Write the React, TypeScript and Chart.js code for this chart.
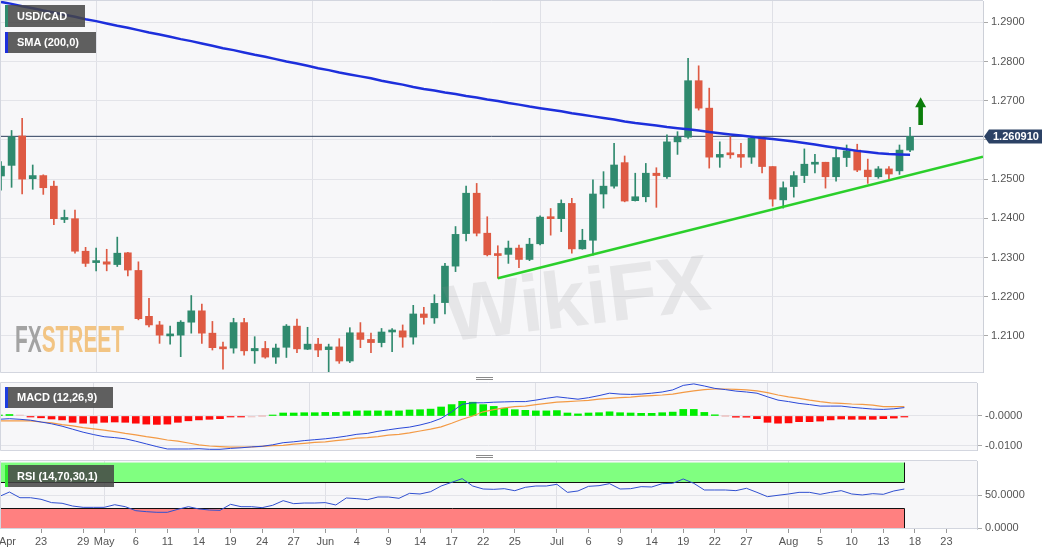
import React, { useEffect, useRef } from 'react';
import { Chart, registerables } from 'chart.js';
Chart.register(...registerables);

const FONT = '"Liberation Sans", Arial, Helvetica, sans-serif';

// ---- x axis (trading-day index; 0 = Apr 19) ----
const tickIndex = [0, 4, 8, 10, 13, 16, 19, 22, 25, 28, 31, 34, 37, 40, 43, 46, 49, 53, 56, 59, 62, 65, 68, 71, 75, 78, 81, 84, 87, 90];
const tickText = ['Apr', '23', '29', 'May', '6', '11', '14', '19', '24', '27', 'Jun', '4', '9', '14', '17', '22', '25', 'Jul', '6', '9', '14', '19', '22', '27', 'Aug', '5', '10', '13', '18', '23'];
const monthIndex = [10, 31, 53, 75];

// ---- USD/CAD daily candles ----
const opens = [
  1.2508, 1.2535, 1.2610, 1.2501, 1.2509, 1.2482, 1.2397, 1.2399, 1.2316, 1.2287,
  1.2289, 1.2282, 1.2312, 1.2267, 1.2150, 1.2128, 1.2100, 1.2102, 1.2135, 1.2164,
  1.2107, 1.2070, 1.2069, 1.2134, 1.2062, 1.2068, 1.2046, 1.2071, 1.2125, 1.2066,
  1.2079, 1.2065, 1.2072, 1.2036, 1.2108, 1.2091, 1.2083, 1.2110, 1.2113, 1.2097,
  1.2156, 1.2146, 1.2185, 1.2278, 1.2361, 1.2464, 1.2362, 1.2307, 1.2308, 1.2324,
  1.2295, 1.2335, 1.2404, 1.2399, 1.2438, 1.2322, 1.2344, 1.2462, 1.2482, 1.2542,
  1.2445, 1.2455, 1.2515, 1.2506, 1.2595, 1.2607, 1.2751, 1.2681, 1.2556, 1.2567,
  1.2563, 1.2556, 1.2604, 1.2532, 1.2447, 1.2481, 1.2509, 1.2538, 1.2543, 1.2506,
  1.2555, 1.2574, 1.2523, 1.2506, 1.2526, 1.2521, 1.2574,
];
const highs = [
  1.2545, 1.2624, 1.2655, 1.2536, 1.2511, 1.2495, 1.2421, 1.2421, 1.2326, 1.2324,
  1.2321, 1.2352, 1.2313, 1.2289, 1.2196, 1.2137, 1.2125, 1.2139, 1.2203, 1.2181,
  1.2137, 1.2084, 1.2145, 1.2145, 1.2098, 1.2086, 1.2079, 1.2129, 1.2143, 1.2122,
  1.2094, 1.2079, 1.2093, 1.2121, 1.2134, 1.2107, 1.2119, 1.2119, 1.2128, 1.2178,
  1.2173, 1.2205, 1.2285, 1.2379, 1.2482, 1.2489, 1.2404, 1.2330, 1.2342, 1.2332,
  1.2349, 1.2406, 1.2425, 1.2447, 1.2451, 1.2372, 1.2498, 1.2519, 1.2591, 1.2559,
  1.2515, 1.2540, 1.2529, 1.2613, 1.2621, 1.2808, 1.2789, 1.2732, 1.2595, 1.2608,
  1.2591, 1.2607, 1.2607, 1.2532, 1.2493, 1.2519, 1.2577, 1.2563, 1.2543, 1.2576,
  1.2587, 1.2589, 1.2551, 1.2532, 1.2532, 1.2587, 1.2632,
];
const lows = [
  1.2472, 1.2479, 1.2462, 1.2474, 1.2461, 1.2384, 1.2389, 1.2311, 1.2277, 1.2266,
  1.2266, 1.2277, 1.2253, 1.2141, 1.2123, 1.2081, 1.2079, 1.2047, 1.2107, 1.2081,
  1.2064, 1.2015, 1.2056, 1.2051, 1.2030, 1.2043, 1.2030, 1.2045, 1.2057, 1.2065,
  1.2047, 1.2006, 1.2030, 1.2032, 1.2070, 1.2057, 1.2072, 1.2060, 1.2071, 1.2079,
  1.2130, 1.2132, 1.2156, 1.2264, 1.2342, 1.2355, 1.2304, 1.2247, 1.2285, 1.2274,
  1.2292, 1.2332, 1.2357, 1.2366, 1.2311, 1.2321, 1.2306, 1.2426, 1.2477, 1.2442,
  1.2444, 1.2442, 1.2428, 1.2502, 1.2563, 1.2604, 1.2676, 1.2528, 1.2530, 1.2553,
  1.2530, 1.2540, 1.2516, 1.2431, 1.2426, 1.2454, 1.2491, 1.2516, 1.2477, 1.2495,
  1.2532, 1.2519, 1.2489, 1.2502, 1.2500, 1.2512, 1.2570,
];
const closes = [
  1.2533, 1.2608, 1.2500, 1.2509, 1.2478, 1.2399, 1.2401, 1.2316, 1.2285, 1.2290,
  1.2283, 1.2311, 1.2268, 1.2144, 1.2128, 1.2102, 1.2103, 1.2135, 1.2164, 1.2107,
  1.2070, 1.2067, 1.2134, 1.2062, 1.2068, 1.2046, 1.2069, 1.2125, 1.2067, 1.2079,
  1.2064, 1.2072, 1.2036, 1.2108, 1.2091, 1.2083, 1.2110, 1.2115, 1.2097, 1.2156,
  1.2147, 1.2183, 1.2278, 1.2359, 1.2464, 1.2362, 1.2307, 1.2305, 1.2324, 1.2295,
  1.2334, 1.2403, 1.2399, 1.2438, 1.2322, 1.2344, 1.2462, 1.2482, 1.2536, 1.2444,
  1.2455, 1.2515, 1.2509, 1.2595, 1.2607, 1.2751, 1.2681, 1.2556, 1.2563, 1.2562,
  1.2556, 1.2604, 1.2532, 1.2449, 1.2478, 1.2509, 1.2538, 1.2543, 1.2506, 1.2555,
  1.2572, 1.2523, 1.2506, 1.2526, 1.2513, 1.2574, 1.2609,
];
const sma200 = [
  1.2952, 1.2947, 1.2941, 1.2936, 1.2930, 1.2925, 1.2919, 1.2914, 1.2908, 1.2903,
  1.2897, 1.2891, 1.2886, 1.2880, 1.2874, 1.2869, 1.2863, 1.2857, 1.2852, 1.2846,
  1.2840, 1.2834, 1.2829, 1.2823, 1.2817, 1.2812, 1.2806, 1.2800, 1.2795, 1.2789,
  1.2783, 1.2778, 1.2772, 1.2767, 1.2762, 1.2757, 1.2751, 1.2746, 1.2741, 1.2735,
  1.2730, 1.2726, 1.2721, 1.2717, 1.2712, 1.2708, 1.2703, 1.2699, 1.2694, 1.2690,
  1.2685, 1.2681, 1.2677, 1.2673, 1.2668, 1.2664, 1.2660, 1.2656, 1.2652, 1.2647,
  1.2643, 1.2640, 1.2637, 1.2633, 1.2630, 1.2627, 1.2624, 1.2620, 1.2617, 1.2614,
  1.2611, 1.2608, 1.2605, 1.2602, 1.2599, 1.2596, 1.2592, 1.2588, 1.2584, 1.2580,
  1.2576, 1.2572, 1.2569, 1.2566, 1.2564, 1.2563, 1.2562,
];
const trendIdx = [47, 92.9];
const trendPrice = [1.2247, 1.2557];
const lastPrice = 1.26091;
const signalArrow = { index: 87, from: 1.2638, to: 1.2709 };
const priceTicks = [1.21, 1.22, 1.23, 1.24, 1.25, 1.26, 1.27, 1.28, 1.29];

// ---- MACD (12,26,9) ----
const macdLine = [
  -0.0011, -0.0009, -0.0011, -0.0014, -0.0020, -0.0026, -0.0034, -0.0044, -0.0054, -0.0062,
  -0.0069, -0.0072, -0.0076, -0.0084, -0.0093, -0.0102, -0.0110, -0.0110, -0.0110, -0.0109,
  -0.0111, -0.0111, -0.0108, -0.0106, -0.0103, -0.0101, -0.0096, -0.0089, -0.0086, -0.0082,
  -0.0079, -0.0076, -0.0072, -0.0067, -0.0061, -0.0058, -0.0051, -0.0046, -0.0041, -0.0037,
  -0.0030, -0.0021, -0.0008, 0.0014, 0.0039, 0.0044, 0.0044, 0.0046, 0.0047, 0.0048,
  0.0048, 0.0053, 0.0059, 0.0064, 0.0060, 0.0056, 0.0061, 0.0068, 0.0076, 0.0073,
  0.0072, 0.0073, 0.0076, 0.0080, 0.0087, 0.0102, 0.0107, 0.0100, 0.0092, 0.0088,
  0.0083, 0.0080, 0.0076, 0.0064, 0.0053, 0.0048, 0.0042, 0.0038, 0.0033, 0.0033,
  0.0033, 0.0029, 0.0026, 0.0023, 0.0022, 0.0024, 0.0028,
];
const signalLine = [
  -0.0016, -0.0016, -0.0016, -0.0016, -0.0020, -0.0023, -0.0029, -0.0033, -0.0039, -0.0043,
  -0.0047, -0.0052, -0.0058, -0.0063, -0.0069, -0.0074, -0.0080, -0.0084, -0.0090, -0.0096,
  -0.0100, -0.0102, -0.0104, -0.0104, -0.0103, -0.0101, -0.0099, -0.0098, -0.0094, -0.0091,
  -0.0088, -0.0086, -0.0082, -0.0079, -0.0074, -0.0072, -0.0069, -0.0064, -0.0061, -0.0056,
  -0.0050, -0.0044, -0.0036, -0.0024, -0.0011, 0.0000, 0.0014, 0.0021, 0.0027, 0.0031,
  0.0033, 0.0038, 0.0042, 0.0046, 0.0048, 0.0050, 0.0052, 0.0056, 0.0059, 0.0061,
  0.0063, 0.0066, 0.0068, 0.0070, 0.0073, 0.0079, 0.0084, 0.0088, 0.0090, 0.0090,
  0.0089, 0.0087, 0.0084, 0.0078, 0.0070, 0.0064, 0.0059, 0.0053, 0.0048, 0.0044,
  0.0042, 0.0040, 0.0039, 0.0036, 0.0031, 0.0031, 0.0031,
];
const macdHist = [
  0.0002, 0.0005, 0.0001, -0.0003, -0.0006, -0.0010, -0.0013, -0.0021, -0.0024, -0.0024,
  -0.0021, -0.0020, -0.0021, -0.0024, -0.0027, -0.0028, -0.0027, -0.0021, -0.0016, -0.0013,
  -0.0011, -0.0009, -0.0003, -0.0002, -0.0001, 0.0000, 0.0003, 0.0010, 0.0010, 0.0011,
  0.0011, 0.0012, 0.0012, 0.0014, 0.0017, 0.0017, 0.0017, 0.0017, 0.0017, 0.0020,
  0.0021, 0.0023, 0.0030, 0.0038, 0.0049, 0.0046, 0.0038, 0.0032, 0.0026, 0.0021,
  0.0019, 0.0017, 0.0017, 0.0018, 0.0010, 0.0007, 0.0010, 0.0011, 0.0014, 0.0011,
  0.0010, 0.0009, 0.0009, 0.0011, 0.0013, 0.0022, 0.0022, 0.0012, 0.0004, 0.0000,
  -0.0004, -0.0004, -0.0009, -0.0021, -0.0024, -0.0023, -0.0019, -0.0019, -0.0017, -0.0013,
  -0.0010, -0.0011, -0.0011, -0.0011, -0.0009, -0.0007, -0.0003,
];
const macdTicks = [-0.01, 0];

// ---- RSI (14,70,30,1) ----
const rsi = [
  47.9, 55.0, 46.3, 46.3, 43.9, 38.8, 37.8, 33.6, 31.6, 31.6,
  31.6, 35.6, 32.6, 26.5, 25.0, 24.0, 24.0, 28.6, 32.6, 29.1,
  27.5, 27.0, 36.2, 32.6, 32.6, 31.1, 34.7, 41.8, 37.2, 38.2,
  38.2, 38.8, 35.2, 45.9, 44.9, 43.3, 47.4, 47.4, 45.4, 53.0,
  52.0, 55.5, 64.2, 69.8, 75.4, 64.2, 59.6, 59.1, 60.1, 57.0,
  62.2, 64.2, 64.2, 66.8, 54.5, 56.6, 63.7, 64.7, 67.8, 59.6,
  60.1, 63.2, 62.7, 67.8, 68.3, 74.9, 68.3, 58.1, 58.1, 58.1,
  57.1, 60.7, 54.5, 47.9, 50.0, 52.0, 54.5, 54.5, 51.5, 54.5,
  57.1, 52.0, 50.5, 52.5, 51.5, 56.6, 59.6,
];
const rsiTop = 100;
const rsiUpper = 70;
const rsiLower = 30;
const rsiBottom = 0;
const rsiTicks = [0, 50];

// ---- scale ranges ----
const MAIN_X_MIN = -0.095;
const LOW_X_MIN = 0.104;
const X_MAX = 92.9;

const GREEN = '#2f8a6e';
const RED = '#de5a43';

const idx = opens.map((_, i) => i);
const candleColors = idx.map((i) => (closes[i] >= opens[i] ? GREEN : RED));

const plotFrame = {
  id: 'plotFrame',
  beforeDraw(chart: any) {
    const { ctx, chartArea: a } = chart;
    ctx.save();
    ctx.fillStyle = '#f7f7f9';
    ctx.fillRect(a.left, a.top, a.right - a.left, a.bottom - a.top);
    ctx.restore();
  },
  afterDraw(chart: any) {
    const { ctx, chartArea: a } = chart;
    ctx.save();
    ctx.strokeStyle = '#d3d6df';
    ctx.lineWidth = 1;
    ctx.beginPath();
    ctx.moveTo(a.right, a.top - 0.5);
    ctx.lineTo(a.left + 0.5, a.top - 0.5);
    ctx.lineTo(a.left + 0.5, a.bottom - 0.5);
    ctx.lineTo(a.right, a.bottom - 0.5);
    ctx.stroke();
    ctx.restore();
  },
};

const arrowPlugin = {
  id: 'signalArrow',
  afterDatasetsDraw(chart: any) {
    const { ctx, scales } = chart;
    const cx = scales.x.getPixelForValue(signalArrow.index);
    const tip = scales.y.getPixelForValue(signalArrow.to);
    const base = scales.y.getPixelForValue(signalArrow.from);
    const head = 10;
    ctx.save();
    ctx.fillStyle = '#0b7d0b';
    ctx.beginPath();
    ctx.moveTo(cx, tip);
    ctx.lineTo(cx + 5.5, tip + head);
    ctx.lineTo(cx + 2.3, tip + head);
    ctx.lineTo(cx + 2.3, base);
    ctx.lineTo(cx - 2.3, base);
    ctx.lineTo(cx - 2.3, tip + head);
    ctx.lineTo(cx - 5.5, tip + head);
    ctx.closePath();
    ctx.fill();
    ctx.restore();
  },
};

const lastPriceLabel = {
  id: 'lastPriceLabel',
  afterDraw(chart: any) {
    const { ctx, chartArea: a, scales } = chart;
    const y = Math.round(scales.y.getPixelForValue(lastPrice)) + 0.5;
    const x0 = a.right + 1;
    ctx.save();
    ctx.fillStyle = '#2c4265';
    ctx.beginPath();
    ctx.moveTo(x0, y);
    ctx.lineTo(x0 + 5, y - 7);
    ctx.lineTo(x0 + 58, y - 7);
    ctx.lineTo(x0 + 58, y + 7);
    ctx.lineTo(x0 + 5, y + 7);
    ctx.closePath();
    ctx.fill();
    ctx.fillStyle = '#ffffff';
    ctx.font = `bold 11px ${FONT}`;
    ctx.textBaseline = 'middle';
    ctx.textAlign = 'left';
    ctx.fillText(lastPrice.toFixed(6), x0 + 9, y + 0.5);
    ctx.restore();
  },
};

const rsiZones = {
  id: 'rsiZones',
  beforeDatasetsDraw(chart: any) {
    const { ctx, chartArea: a, scales } = chart;
    const l = a.left;
    const xr = Math.round(scales.x.getPixelForValue(rsi.length - 1)) + 0.5;
    const yT = scales.y.getPixelForValue(rsiTop);
    const yU = Math.round(scales.y.getPixelForValue(rsiUpper)) + 0.5;
    const yL = Math.round(scales.y.getPixelForValue(rsiLower)) + 0.5;
    const yB = scales.y.getPixelForValue(rsiBottom);
    ctx.save();
    ctx.fillStyle = '#80ff80';
    ctx.fillRect(l, yT, xr - l, yU - yT);
    ctx.fillStyle = '#ff8080';
    ctx.fillRect(l, yL, xr - l, yB - yL);
    ctx.strokeStyle = '#111111';
    ctx.lineWidth = 1;
    ctx.beginPath();
    ctx.moveTo(l + 0.5, yT);
    ctx.lineTo(l + 0.5, yU);
    ctx.lineTo(xr, yU);
    ctx.lineTo(xr, yT);
    ctx.moveTo(l + 0.5, yB);
    ctx.lineTo(l + 0.5, yL);
    ctx.lineTo(xr, yL);
    ctx.lineTo(xr, yB);
    ctx.stroke();
    ctx.restore();
  },
};

function xAxis(min: number, max: number, withLabels: boolean) {
  return {
    type: 'linear',
    min,
    max,
    offset: false,
    afterBuildTicks: (s: any) => {
      s.ticks = (withLabels ? [...tickIndex, max] : tickIndex).map((v) => ({ value: v }));
    },
    ticks: {
      display: withLabels,
      autoSkip: false,
      maxRotation: 0,
      minRotation: 0,
      align: 'inner',
      padding: 2,
      color: '#555',
      font: { size: 11, family: FONT },
      callback: (_v: any, i: number) => tickText[i] ?? '',
    },
    grid: {
      color: (c: any) => (c.tick && monthIndex.includes(c.tick.value) ? '#dfe0e6' : 'rgba(0,0,0,0)'),
      drawTicks: withLabels,
      tickLength: 4,
      tickColor: (c: any) => (c.tick && c.tick.value < max - 0.5 ? '#999' : 'rgba(0,0,0,0)'),
    },
    border: { display: false },
    afterFit: (s: any) => {
      s.height = withLabels ? 26 : 0;
      s.paddingLeft = 0;
      s.paddingRight = 0;
    },
  };
}

function yAxis(min: number, max: number, ticks: number[], fmt: (v: number) => string, width: number) {
  return {
    position: 'right',
    min,
    max,
    afterBuildTicks: (s: any) => {
      s.ticks = ticks.map((v) => ({ value: v }));
    },
    ticks: {
      autoSkip: false,
      callback: (v: any) => fmt(Number(v)),
      color: '#555',
      font: { size: 11, family: FONT },
      padding: 3,
    },
    grid: { color: '#e3e4e9', tickLength: 5, tickColor: '#aaa' },
    border: { display: true, color: '#cdd0d8' },
    afterFit: (s: any) => {
      s.width = width;
      s.paddingTop = 0;
      s.paddingBottom = 0;
    },
  };
}

const baseOptions = {
  responsive: false,
  animation: false,
  events: [],
  layout: { padding: { top: 1, left: 0, right: 0, bottom: 0 }, autoPadding: false },
  plugins: { legend: { display: false }, tooltip: { enabled: false } },
};

function mainConfig(): any {
  return {
    type: 'bar',
    data: {
      datasets: [
        {
          type: 'line',
          data: idx.map((i) => ({ x: i, y: sma200[i] })),
          borderColor: '#1d2fdc',
          borderWidth: 2.5,
          pointRadius: 0,
          order: 1,
          clip: 0,
        },
        {
          type: 'line',
          data: trendIdx.map((x, k) => ({ x, y: trendPrice[k] })),
          borderColor: '#2bcf2b',
          borderWidth: 2.5,
          pointRadius: 0,
          order: 0,
          clip: 0,
        },
        {
          type: 'line',
          data: [
            { x: MAIN_X_MIN, y: lastPrice },
            { x: X_MAX, y: lastPrice },
          ],
          borderColor: '#2b3d5c',
          borderWidth: 1,
          pointRadius: 0,
          order: 4,
          clip: 0,
        },
        {
          type: 'bar',
          data: idx.map((i) => ({ x: i, y: [lows[i], highs[i]] })),
          backgroundColor: candleColors,
          barThickness: 1,
          grouped: false,
          order: 3,
          clip: 0,
        },
        {
          type: 'bar',
          data: idx.map((i) => ({ x: i, y: [Math.min(opens[i], closes[i]), Math.max(opens[i], closes[i])] })),
          backgroundColor: candleColors,
          barThickness: 7,
          minBarLength: 2,
          grouped: false,
          order: 2,
          clip: 0,
        },
      ],
    },
    options: {
      ...baseOptions,
      scales: {
        x: xAxis(MAIN_X_MIN, X_MAX, false),
        y: yAxis(1.20054, 1.29543, priceTicks, (v) => v.toFixed(4), 77),
      },
    },
    plugins: [plotFrame, arrowPlugin, lastPriceLabel],
  };
}

function macdConfig(): any {
  const histColors = macdHist.map((v) => (v >= 0.00015 ? '#00ee00' : v <= -0.00015 ? '#ff0a0a' : '#ecc4c4'));
  return {
    type: 'bar',
    data: {
      datasets: [
        {
          type: 'line',
          data: idx.map((i) => ({ x: i, y: macdLine[i] })),
          borderColor: '#2a48d8',
          borderWidth: 1,
          pointRadius: 0,
          order: 0,
        },
        {
          type: 'line',
          data: idx.map((i) => ({ x: i, y: signalLine[i] })),
          borderColor: '#f39a45',
          borderWidth: 1.2,
          pointRadius: 0,
          order: 1,
        },
        {
          type: 'bar',
          data: idx.map((i) => ({ x: i, y: macdHist[i] })),
          backgroundColor: histColors,
          barThickness: 7,
          minBarLength: 1,
          grouped: false,
          order: 2,
          clip: 0,
        },
      ],
    },
    options: {
      ...baseOptions,
      scales: {
        x: xAxis(LOW_X_MIN, X_MAX, false),
        y: yAxis(-0.011667, 0.011, macdTicks, (v) => (v === 0 ? '-0.0000' : v.toFixed(4)), 83),
      },
    },
    plugins: [plotFrame],
  };
}

function rsiConfig(): any {
  return {
    type: 'line',
    data: {
      datasets: [
        {
          data: idx.map((i) => ({ x: i, y: rsi[i] })),
          borderColor: '#3050d0',
          borderWidth: 1,
          pointRadius: 0,
        },
      ],
    },
    options: {
      ...baseOptions,
      scales: {
        x: xAxis(LOW_X_MIN, X_MAX, true),
        y: yAxis(-1.5, 102.4, rsiTicks, (v) => v.toFixed(4), 83),
      },
    },
    plugins: [plotFrame, rsiZones],
  };
}

function Tag({ left, top, width, height, stripe, text }: any) {
  return (
    <div
      style={{
        position: 'absolute',
        left,
        top,
        width,
        height,
        boxSizing: 'border-box',
        background: 'rgba(68,68,68,0.85)',
        borderLeft: `3px solid ${stripe}`,
        color: '#ffffff',
        fontFamily: FONT,
        fontWeight: 'bold',
        fontSize: 11,
        lineHeight: `${height}px`,
        paddingLeft: 9,
        whiteSpace: 'nowrap',
      }}
    >
      {text}
    </div>
  );
}

function Handle({ top }: { top: number }) {
  return (
    <div style={{ position: 'absolute', left: 476, top, width: 17, height: 4 }}>
      <div style={{ position: 'absolute', left: 0, top: 0, width: 17, height: 1, background: '#8a8a8a' }} />
      <div style={{ position: 'absolute', left: 0, top: 2, width: 17, height: 1, background: '#8a8a8a' }} />
    </div>
  );
}

export default function App() {
  const mainRef = useRef<HTMLCanvasElement>(null);
  const macdRef = useRef<HTMLCanvasElement>(null);
  const rsiRef = useRef<HTMLCanvasElement>(null);
  const logoRef = useRef<HTMLDivElement>(null);

  useEffect(() => {
    document.body.style.margin = '0';
    Chart.defaults.font.family = FONT;
    const logo = logoRef.current;
    if (logo) {
      const w = logo.scrollWidth || 1;
      logo.style.transform = `scaleX(${109 / w})`;
    }
    const charts = [
      new Chart(mainRef.current as HTMLCanvasElement, mainConfig()),
      new Chart(macdRef.current as HTMLCanvasElement, macdConfig()),
      new Chart(rsiRef.current as HTMLCanvasElement, rsiConfig()),
    ];
    return () => charts.forEach((c) => c.destroy());
  }, []);

  return (
    <div style={{ position: 'relative', width: 1060, height: 555, background: '#ffffff', overflow: 'hidden' }}>
      <canvas ref={mainRef} width={1060} height={373} style={{ position: 'absolute', left: 0, top: 0 }} />
      <canvas ref={macdRef} width={1060} height={69} style={{ position: 'absolute', left: 0, top: 382 }} />
      <canvas ref={rsiRef} width={1060} height={95} style={{ position: 'absolute', left: 0, top: 460 }} />

      <div
        style={{
          position: 'absolute',
          left: 440,
          top: 270,
          fontFamily: FONT,
          fontWeight: 'bold',
          fontSize: 80,
          lineHeight: '90px',
          color: 'rgba(140,140,140,0.16)',
          transform: 'rotate(-7deg)',
          transformOrigin: 'left top',
          pointerEvents: 'none',
          whiteSpace: 'nowrap',
        }}
      >
        WikiFX
      </div>

      <div
        ref={logoRef}
        style={{
          position: 'absolute',
          left: 15,
          top: 322,
          display: 'inline-block',
          fontFamily: '"Liberation Sans Narrow", "Liberation Sans", Arial, sans-serif',
          fontWeight: 'bold',
          fontSize: 36,
          lineHeight: '36px',
          transformOrigin: 'left top',
          whiteSpace: 'nowrap',
          pointerEvents: 'none',
        }}
      >
        <span style={{ color: '#a3a3a3' }}>FX</span>
        <span style={{ color: '#f2c483' }}>STREET</span>
      </div>

      <Tag left={5} top={5} width={80} height={22} stripe="#2f8a6e" text="USD/CAD" />
      <Tag left={5} top={32} width={91} height={21} stripe="#1d2fdc" text="SMA (200,0)" />
      <Tag left={5} top={387} width={108} height={21} stripe="#1e3ee0" text="MACD (12,26,9)" />
      <Tag left={5} top={465} width={109} height={22} stripe="#30e830" text="RSI (14,70,30,1)" />

      <Handle top={377} />
      <Handle top={455} />
    </div>
  );
}
